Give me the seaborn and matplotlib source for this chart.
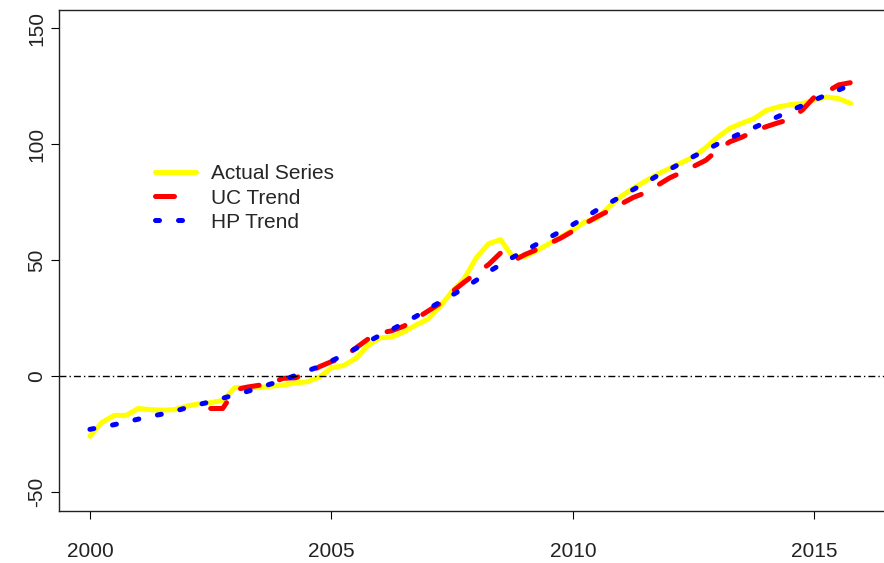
import numpy as np
import pandas as pd
import matplotlib
matplotlib.use("Agg")
import matplotlib.pyplot as plt
import seaborn as sns
from matplotlib.lines import Line2D

# quarterly time index, 2000Q1 .. 2015Q4
quarters = np.arange(2000, 2016, 0.25)

# values
actual = [-26, -20, -17, -17, -14, -14.5, -14.7, -14.5, -13, -12,
          -11.5, -10.5, -5, -5, -5, -4.4, -3.9, -3, -2.5, -0.5,
          3.5, 4.5, 7.5, 13, 16.4, 16.8, 19, 22, 24.5, 30,
          36.5, 42, 51, 57, 58.8, 51.5, 51.4, 54, 57, 60,
          63, 66.5, 68, 73, 77.5, 81, 84, 87, 89.5, 92,
          94.5, 98.5, 103, 106.8, 109, 111, 114.5, 116, 117, 117.5,
          119, 120.3, 119.6, 117.5]

# UC trend only starts in 2002Q3
uc_trend = [np.nan] * 10 + [
          -14, -14, -6, -4.8, -4, -3, -1, -0.8, 1, 4,
          6.2, 8, 12, 15.8, 18.5, 19.5, 21.5, 24.7, 28, 31.3,
          36.3, 40.5, 44.3, 48, 53, 49.5, 52.3, 54.5, 57, 59.5,
          62.5, 65.7, 68.7, 71.3, 74.2, 77, 79, 82.2, 85.4, 87.8,
          90.4, 93, 97.5, 101, 103, 105.5, 107.5, 109.2, 110.7, 114.7,
          120.3, 122.5, 125.5, 126.5]

hp_trend = [-23, -22, -21, -19.8, -18.6, -17.4, -16.4, -15.2, -13.7, -12.3,
            -11.1, -9.6, -8.1, -6.7, -5.1, -3.4, -1.7, 0.2, 2.2, 4.1,
            6.5, 9, 11.8, 14.7, 17.5, 20, 22.9, 25.7, 28.9, 31.9,
            34.9, 37.9, 41.3, 44.9, 48, 51.1, 54, 56.8, 59.6, 62.4,
            65.3, 68.4, 71.6, 74.5, 77.5, 80.4, 83.3, 86.4, 89.1, 91.9,
            94.7, 97.3, 100.1, 102.5, 104.9, 107.1, 109.5, 111.9, 114.4, 116.6,
            119, 121.2, 123.3, 125.5]

labels = ["Actual Series", "UC Trend", "HP Trend"]
x_ticks = [2000, 2005, 2010, 2015]
y_ticks = [-50, 0, 50, 100, 150]

df = pd.DataFrame({"quarter": quarters, "actual": actual,
                   "uc": uc_trend, "hp": hp_trend})

sns.set_style("white")
plt.rcParams["font.family"] = ["Liberation Sans", "DejaVu Sans"]
plt.rcParams["font.size"] = 15
plt.rcParams["axes.unicode_minus"] = False

fig = plt.figure(figsize=(8.84, 5.63), dpi=100)
ax = fig.add_axes([59 / 884, 52 / 563, 1 - 59 / 884, 501 / 563])

lw = 3.6
uc_dash = (3.8, 4.2)
hp_dash = (0.8, 3.8)

sns.lineplot(data=df, x="quarter", y="actual", color="#FFFF00", lw=lw, ax=ax)
ax.lines[-1].set_solid_capstyle("round")
ax.lines[-1].set_solid_joinstyle("round")

sns.lineplot(data=df, x="quarter", y="uc", color="#FF0000", lw=lw, ax=ax)
ax.lines[-1].set_dashes(uc_dash)
ax.lines[-1].set_dash_capstyle("round")

sns.lineplot(data=df, x="quarter", y="hp", color="#0000FF", lw=lw, ax=ax)
ax.lines[-1].set_dashes(hp_dash)
ax.lines[-1].set_dash_capstyle("round")

ax.axhline(0, color="black", lw=1, linestyle=(0, (5, 2.2, 1, 2.2)))

ax.set_xlim(1999.36, 2016.44)
ax.set_ylim(-58.2, 157.8)
ax.set_xticks(x_ticks)
ax.set_yticks(y_ticks)
ax.set_xlabel("")
ax.set_ylabel("")
for lab in ax.get_yticklabels():
    lab.set_rotation(90)
    lab.set_va("center")

ax.tick_params(axis="both", direction="out", length=6, width=0.8,
               color="black", labelcolor="#222222", left=True, bottom=True)
ax.tick_params(axis="x", pad=16)
ax.tick_params(axis="y", pad=3)
for side in ["left", "bottom", "top"]:
    ax.spines[side].set_color("#222222")
    ax.spines[side].set_linewidth(1)
ax.spines["right"].set_visible(False)

# legend key: one red dash only, like the reference
handles = [
    Line2D([], [], color="#FFFF00", lw=lw, solid_capstyle="round"),
    Line2D([], [], color="#FF0000", lw=lw, dashes=(3.8, 8), dash_capstyle="round"),
    Line2D([], [], color="#0000FF", lw=lw, dashes=hp_dash, dash_capstyle="round"),
]
ax.legend(handles, labels, loc="upper left", bbox_to_anchor=(0.116, 0.692),
          frameon=False, borderpad=0, borderaxespad=0, handlelength=2.0,
          handletextpad=0.7, labelspacing=0.25, fontsize=15)

fig.savefig("out.png", dpi=100)
